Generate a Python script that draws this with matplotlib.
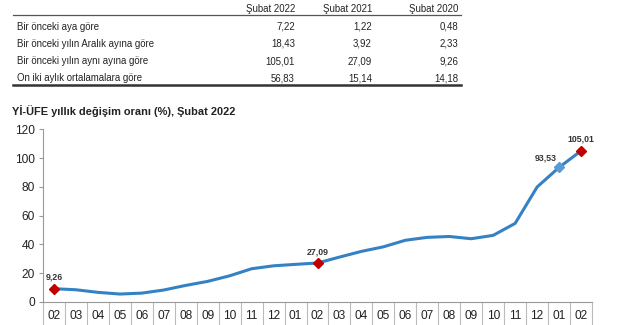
import numpy as np
import matplotlib.pyplot as plt
from matplotlib.lines import Line2D

plt.rcParams['font.family'] = ['Liberation Sans', 'DejaVu Sans']

# summary table
col_heads = ['Şubat 2022', 'Şubat 2021', 'Şubat 2020']
row_names = ['Bir önceki aya göre',
             'Bir önceki yılın Aralık ayına göre',
             'Bir önceki yılın aynı ayına göre',
             'On iki aylık ortalamalara göre']
row_vals = [['7,22', '1,22', '0,48'],
            ['18,43', '3,92', '2,33'],
            ['105,01', '27,09', '9,26'],
            ['56,83', '15,14', '14,18']]

# annual PPI change, Feb 2020 - Feb 2022
months = ['02', '03', '04', '05', '06', '07', '08', '09', '10', '11', '12', '01',
          '02', '03', '04', '05', '06', '07', '08', '09', '10', '11', '12', '01', '02']
ppi = [9.26, 8.50, 6.71, 5.53, 6.17, 8.33, 11.53, 14.33, 18.20, 23.11, 25.15, 26.16,
       27.09, 31.20, 35.17, 38.33, 42.89, 44.92, 45.52, 43.96, 46.31, 54.62, 79.89,
       93.53, 105.01]
red_idx = [0, 12, 24]
blue_idx = [23]

tsize = 6.9

W, H = 625, 325
fig = plt.figure(figsize=(W / 100, H / 100), dpi=100)

def fx(px):
    return px / W

def fy(py):
    return 1 - py / H

# --- table ---
col_right = [295, 372, 458]
for cx, h in zip(col_right, col_heads):
    fig.text(fx(cx), fy(8.2), h, ha='right', va='center_baseline', fontsize=tsize,
             color='#222222')
fig.add_artist(Line2D([fx(13), fx(461)], [fy(14.5), fy(14.5)], color='#555555', lw=0.9))
row_y = [25.5, 43, 60.5, 77.3]
for ry, name, vals in zip(row_y, row_names, row_vals):
    fig.text(fx(17), fy(ry), name, ha='left', va='center_baseline', fontsize=tsize,
             color='#222222')
    for cx, v in zip(col_right, vals):
        fig.text(fx(cx), fy(ry), v, ha='right', va='center_baseline', fontsize=tsize,
                 color='#222222')
fig.add_artist(Line2D([fx(13), fx(461)], [fy(84.5), fy(84.5)], color='#333333', lw=1.8))

# --- chart ---
fig.text(fx(12), fy(111), 'Yİ-ÜFE yıllık değişim oranı (%), Şubat 2022',
         ha='left', va='center', fontsize=7.9, fontweight='bold', color='#222222')

ax = fig.add_axes([fx(43), fy(302), fx(592) - fx(43), fy(129.3) - fy(302)])
x = np.arange(len(ppi))
ax.plot(x, ppi, color='#3482C4', lw=2.2, solid_capstyle='round', zorder=2)
ax.plot([x[i] for i in red_idx], [ppi[i] for i in red_idx], 'D', color='#C00000',
        ms=5, zorder=3)
ax.plot([x[i] for i in blue_idx], [ppi[i] for i in blue_idx], 'D', color='#5B9BD5',
        ms=5, zorder=3)

def fmt(v):
    return ('%.2f' % v).replace('.', ',')

for i in red_idx:
    ax.annotate(fmt(ppi[i]), (x[i], ppi[i]), xytext=(0, 5), textcoords='offset points',
                ha='center', va='bottom', fontsize=6.3, fontweight='bold', color='#333333')
for i in blue_idx:
    ax.annotate(fmt(ppi[i]), (x[i], ppi[i]), xytext=(-2, 3.5), textcoords='offset points',
                ha='right', va='bottom', fontsize=6.3, fontweight='bold', color='#333333')

ax.set_xlim(-0.5, len(ppi) - 0.5)
ax.set_ylim(0, 120)
ax.set_yticks(range(0, 121, 20))
ax.tick_params(axis='y', labelsize=8.6, length=3, color='#999999', labelcolor='#222222', pad=3)
ax.set_xticks(x)
ax.set_xticklabels(months)
ax.tick_params(axis='x', labelsize=8.6, length=0, labelcolor='#222222', pad=5.5)

for s in ['top', 'right']:
    ax.spines[s].set_visible(False)
ax.spines['left'].set_color('#999999')
ax.spines['bottom'].set_color('#999999')
ax.spines['left'].set_linewidth(0.8)
ax.spines['bottom'].set_linewidth(0.8)

# category separators under the axis
for b in np.arange(-0.5, len(ppi), 1.0):
    ax.plot([b, b], [0, -20], color='#BBBBBB', lw=0.8, clip_on=False)

fig.savefig('out.png', dpi=100)
